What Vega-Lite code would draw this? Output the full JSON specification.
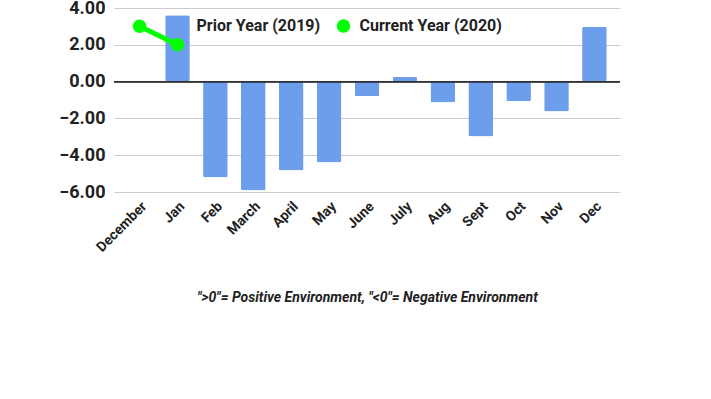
{
  "$schema": "https://vega.github.io/schema/vega-lite/v6.json",
  "autosize": {"type": "none"},
  "width": 506,
  "height": 184,
  "padding": {"left": 114, "top": 8, "right": 91, "bottom": 207},
  "background": "white",
  "config": {
    "view": {"stroke": null},
    "font": "Roboto",
    "axis": {"labelFont": "Roboto", "labelFontWeight": "bold", "labelColor": "#222222"}
  },
  "data": {
    "values": [
      {"month": "December", "series": "Current Year (2020)", "value": 3.01},
      {"month": "Jan", "series": "Current Year (2020)", "value": 2.0},
      {"month": "Jan", "series": "Prior Year (2019)", "value": 3.6},
      {"month": "Feb", "series": "Prior Year (2019)", "value": -5.21},
      {"month": "March", "series": "Prior Year (2019)", "value": -5.92},
      {"month": "April", "series": "Prior Year (2019)", "value": -4.83},
      {"month": "May", "series": "Prior Year (2019)", "value": -4.4},
      {"month": "June", "series": "Prior Year (2019)", "value": -0.8},
      {"month": "July", "series": "Prior Year (2019)", "value": 0.27},
      {"month": "Aug", "series": "Prior Year (2019)", "value": -1.13},
      {"month": "Sept", "series": "Prior Year (2019)", "value": -2.98},
      {"month": "Oct", "series": "Prior Year (2019)", "value": -1.07},
      {"month": "Nov", "series": "Prior Year (2019)", "value": -1.62},
      {"month": "Dec", "series": "Prior Year (2019)", "value": 2.98}
    ]
  },
  "encoding": {
    "x": {
      "field": "month",
      "type": "nominal",
      "sort": ["December", "Jan", "Feb", "March", "April", "May", "June", "July", "Aug", "Sept", "Oct", "Nov", "Dec"],
      "scale": {"paddingInner": 0.35, "paddingOuter": 0.35},
      "axis": {
        "title": "\">0\"= Positive Environment, \"<0\"= Negative Environment",
        "titleFont": "Roboto",
        "titleFontStyle": "italic",
        "titleFontWeight": "bold",
        "titleFontSize": 14,
        "titleColor": "#222222",
        "titlePadding": 36,
        "labelAngle": -45,
        "labelFontSize": 14,
        "labelPadding": 7,
        "labelDx": 6,
        "ticks": false,
        "domain": false,
        "grid": false
      }
    },
    "y": {
      "field": "value",
      "type": "quantitative",
      "scale": {"domain": [-6, 4], "nice": false, "zero": false},
      "axis": {
        "title": null,
        "values": [-6, -4, -2, 0, 2, 4],
        "format": ".2f",
        "labelFontSize": 18,
        "labelPadding": 9,
        "labelDy": 2.5,
        "labelOverlap": false,
        "labelFlush": false,
        "labelBound": false,
        "ticks": false,
        "domain": false,
        "gridColor": "#cccccc"
      }
    },
    "color": {
      "field": "series",
      "type": "nominal",
      "scale": {"domain": ["Prior Year (2019)", "Current Year (2020)"], "range": ["#6d9eeb", "#00ff00"]},
      "legend": {
        "title": null,
        "orient": "none",
        "direction": "horizontal",
        "legendX": 58.5,
        "legendY": 10,
        "padding": 0,
        "symbolType": "circle",
        "symbolSize": 180,
        "symbolStrokeWidth": 0,
        "labelFont": "Roboto",
        "labelFontWeight": "bold",
        "labelFontSize": 16,
        "labelColor": "#222222",
        "labelOffset": 8,
        "columnPadding": 15,
        "labelLimit": 300
      }
    }
  },
  "layer": [
    {
      "mark": {"type": "bar", "cornerRadius": 2},
      "transform": [{"filter": "datum.series === 'Prior Year (2019)'"}]
    },
    {
      "mark": {"type": "rule", "color": "#333333", "strokeWidth": 1},
      "encoding": {"y": {"datum": 0}, "x": null, "color": null}
    },
    {
      "mark": {"type": "line", "strokeWidth": 5, "point": {"filled": true, "size": 180}},
      "transform": [{"filter": "datum.series === 'Current Year (2020)'"}]
    }
  ]
}
